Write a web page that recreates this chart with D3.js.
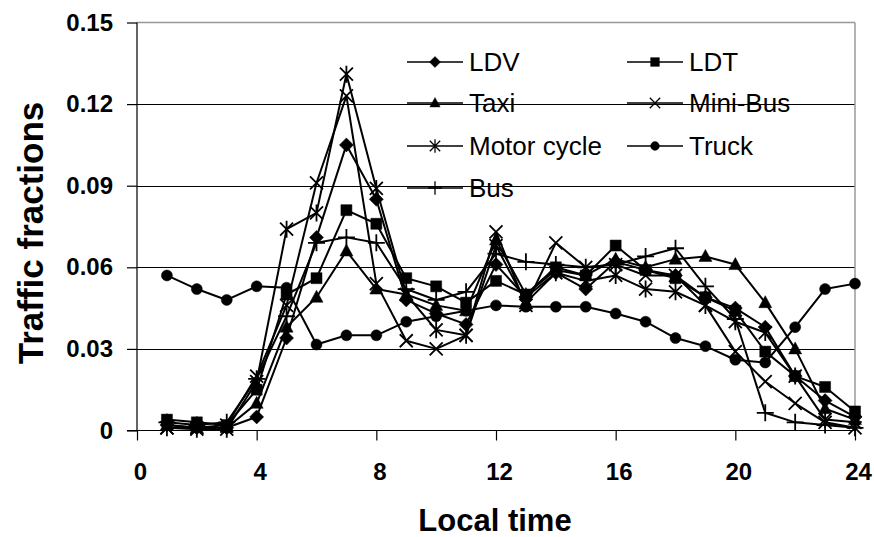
<!DOCTYPE html>
<html><head><meta charset="utf-8">
<script src="https://cdn.jsdelivr.net/npm/d3@7"></script>
<style>html,body{margin:0;padding:0;background:#fff}svg{display:block}</style>
</head><body>
<svg id="chart" width="874" height="537"></svg>
<script>
const hours = [1,2,3,4,5,6,7,8,9,10,11,12,13,14,15,16,17,18,19,20,21,22,23,24];
const seriesNames = ["LDV","LDT","Taxi","Mini-Bus","Motor cycle","Truck","Bus"];
const ldv   = [0.002,0.001,0.001,0.005,0.034,0.071,0.105,0.085,0.048,0.043,0.039,0.061,0.049,0.058,0.052,0.062,0.059,0.057,0.049,0.045,0.038,0.020,0.011,0.005];
const ldt   = [0.004,0.003,0.002,0.015,0.050,0.056,0.081,0.076,0.056,0.053,0.047,0.055,0.050,0.060,0.057,0.068,0.059,0.056,0.049,0.044,0.029,0.020,0.016,0.007];
const taxi  = [0.002,0.001,0.001,0.010,0.038,0.049,0.066,0.052,0.050,0.046,0.044,0.070,0.050,0.059,0.057,0.063,0.060,0.063,0.064,0.061,0.047,0.030,0.008,0.004];
const miniBus = [0.001,0.001,0.002,0.020,0.046,0.091,0.123,0.054,0.033,0.030,0.035,0.073,0.046,0.069,0.060,0.061,0.057,0.057,0.046,0.029,0.018,0.010,0.003,0.001];
const motorCycle = [0.001,0.0005,0.0005,0.018,0.074,0.080,0.131,0.089,0.050,0.037,0.035,0.068,0.047,0.058,0.055,0.057,0.052,0.051,0.046,0.040,0.036,0.020,0.004,0.003];
const truck = [0.057,0.052,0.048,0.053,0.0525,0.0316,0.035,0.035,0.040,0.042,0.044,0.046,0.0455,0.0455,0.0455,0.043,0.040,0.034,0.031,0.026,0.025,0.038,0.052,0.054];
const bus   = [0.003,0.002,0.003,0.019,0.042,0.069,0.071,0.069,0.052,0.048,0.051,0.065,0.062,0.061,0.060,0.061,0.064,0.067,0.053,0.041,0.0065,0.003,0.002,0.001];
const markers = ["diamond","square","triangle","times","asterisk","circle","plus"];
const xTicks = [0,4,8,12,16,20,24];
const yTicks = [0,0.03,0.06,0.09,0.12,0.15];
const yTickLabels = ["0","0.03","0.06","0.09","0.12","0.15"];
const allValues = [ldv,ldt,taxi,miniBus,motorCycle,truck,bus];

const svg = d3.select("#chart");
const L = 137, R = 855, T = 22.5, B = 430.5;
const x = d3.scaleLinear().domain([0,24]).range([L,R]);
const y = d3.scaleLinear().domain([0,0.15]).range([B,T]);
const FONT = "Liberation Sans, Arial, sans-serif";

// gridlines
svg.append("g").selectAll("line").data(yTicks.filter(v=>v>0 && v<0.15)).join("line")
  .attr("x1",L).attr("x2",R).attr("y1",d=>Math.round(y(d))+0.5).attr("y2",d=>Math.round(y(d))+0.5)
  .attr("stroke","#000").attr("stroke-width",1);
// plot border top/right (gray)
svg.append("line").attr("x1",L).attr("x2",R).attr("y1",T).attr("y2",T).attr("stroke","#999").attr("stroke-width",1.5);
svg.append("line").attr("x1",R).attr("x2",R).attr("y1",T).attr("y2",B).attr("stroke","#999").attr("stroke-width",1.5);

// axes
const yAxis = d3.axisLeft(y).tickValues(yTicks).tickSize(10).tickFormat((d,i)=>yTickLabels[i]).tickPadding(14);
const gy = svg.append("g").attr("transform",`translate(${L},0)`).call(yAxis);
const xAxis = d3.axisBottom(x).tickValues(xTicks).tickSize(10).tickFormat(d3.format("d")).tickPadding(22);
const gx = svg.append("g").attr("transform",`translate(0,${B})`).call(xAxis);
[gx,gy].forEach(g=>{
  g.selectAll("path").attr("stroke","#000").attr("stroke-width",1.2);
  g.selectAll("line").attr("stroke","#000").attr("stroke-width",1.2);
  g.selectAll("text").attr("font-family",FONT).attr("font-weight","bold").attr("font-size",24).attr("fill","#000");
});
gx.selectAll("text").attr("dx",3);
gy.select("path").attr("d",`M-10,${B}H0V${T}`);
gx.select("path").attr("d",`M${L},0H${R}`);

// axis titles
svg.append("text").attr("x",495).attr("y",531).attr("text-anchor","middle")
  .attr("font-family",FONT).attr("font-weight","bold").attr("font-size",31).text("Local time");
svg.append("text").attr("transform","translate(43,233) rotate(-90)").attr("text-anchor","middle")
  .attr("font-family",FONT).attr("font-weight","bold").attr("font-size",35).text("Traffic fractions");

function markerPath(type){
  switch(type){
    case "diamond": return "M0,-7L7,0L0,7L-7,0Z";
    case "square": return "M-5.5,-5.5H5.5V5.5H-5.5Z";
    case "triangle": return "M0,-7L6.5,5L-6.5,5Z";
    case "circle": return "M-5.5,0A5.5,5.5 0 1,0 5.5,0A5.5,5.5 0 1,0 -5.5,0Z";
    case "times": return "M-6.5,-6.5L6.5,6.5M-6.5,6.5L6.5,-6.5";
    case "asterisk": return "M-6.5,-6.5L6.5,6.5M-6.5,6.5L6.5,-6.5M0,-8.5L0,8.5";
    case "plus": return "M-8.5,0H8.5M0,-8.5V8.5";
  }
}
const filled = t => ["diamond","square","triangle","circle"].includes(t);

const line = d3.line().x(d=>x(d[0])).y(d=>y(d[1]));
allValues.forEach((vals,i)=>{
  const pts = hours.map((h,j)=>[h,vals[j]]);
  const g = svg.append("g");
  g.append("path").attr("d",line(pts)).attr("fill","none").attr("stroke","#000").attr("stroke-width",2).attr("stroke-linejoin","round");
  g.selectAll("path.m").data(pts).join("path").attr("class","m")
    .attr("transform",d=>`translate(${x(d[0])},${y(d[1])})`)
    .attr("d",markerPath(markers[i]))
    .attr("fill",filled(markers[i])?"#000":"none")
    .attr("stroke","#000").attr("stroke-width",filled(markers[i])?0.5:1.8);
});

// legend
const legendPos = [[407,62],[627,62],[407,103],[627,103],[407,146],[627,146],[407,188]];
seriesNames.forEach((name,i)=>{
  const [lx,ly] = legendPos[i];
  const g = svg.append("g").attr("transform",`translate(${lx},${ly})`);
  g.append("line").attr("x1",0).attr("x2",56).attr("y1",0).attr("y2",0).attr("stroke","#000").attr("stroke-width",1.5);
  g.append("path").attr("transform","translate(28,0) scale(0.8)").attr("d",markerPath(markers[i]))
    .attr("fill",filled(markers[i])?"#000":"none").attr("stroke","#000").attr("stroke-width",filled(markers[i])?0.5:1.6);
  g.append("text").attr("x",62).attr("y",9).attr("font-family",FONT).attr("font-size",26).text(name);
});
</script>
</body></html>
